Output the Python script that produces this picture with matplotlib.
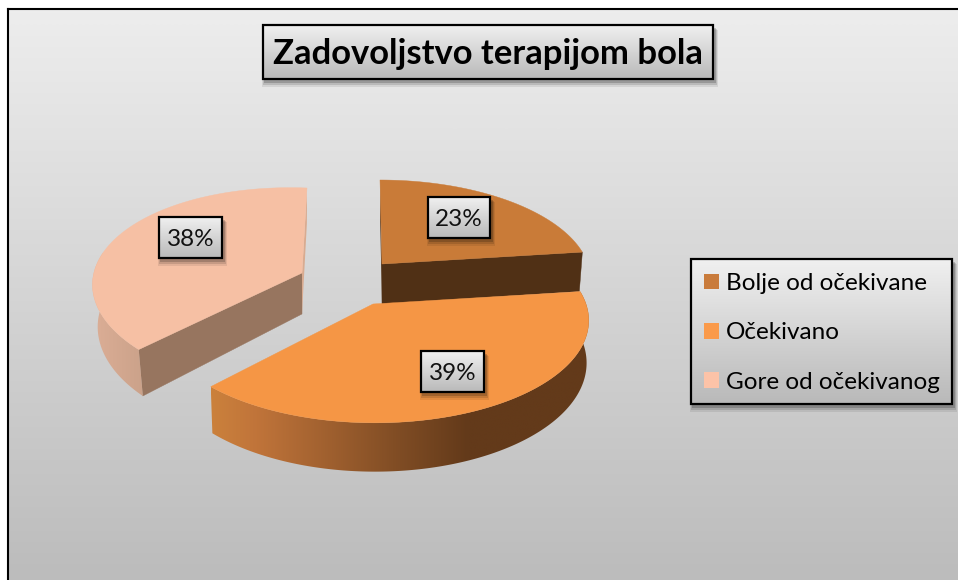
import numpy as np
import matplotlib
matplotlib.use("Agg")
import matplotlib.pyplot as plt
from matplotlib.patches import Rectangle, Polygon, Patch
from matplotlib.colors import LinearSegmentedColormap

# ---- data ----
title = "Zadovoljstvo terapijom bola"
categories = ["Bolje od očekivane", "Očekivano", "Gore od očekivanog"]
values = [23, 39, 38]

# ---- style ----
top_colors = ["#c97b38", "#f59645", "#f6c0a4"]
legend_colors = ["#c97b3b", "#fa9a4a", "#fcc3a8"]
plt.rcParams["font.family"] = ["Lato", "DejaVu Sans"]

# per-slice projection: centre x, centre y, rx, ry, perspective, skew, depth, tilt, wall shrink
geom = [(382, 264, 206, 96.6, 0.15, -2, 40, 0, 0.985),
        (373, 304, 213, 101, 0.15, -2, 41.5, 0, 0.99),
        (302, 273, 206, 98.6, 0.16, 5, 41, 7, 0.975)]
label_boxes = [(428, 197, 62, 41), (421, 351, 63, 41), (159, 217, 63, 41)]

fig = plt.figure(figsize=(9.58, 5.8), dpi=100, facecolor="white")
ax = fig.add_axes([0, 0, 1, 1])
W, H = 958, 580


def grad_box(x, y, w, h, c0, c1, z):
    cm = LinearSegmentedColormap.from_list("g", [c0, c1])
    ax.imshow(np.linspace(0, 1, 128)[:, None], extent=(x, x + w, y + h, y), cmap=cm,
              aspect="auto", interpolation="bilinear", zorder=z, vmin=0, vmax=1)


def boxed(x, y, w, h, z=10, lw=1.6, c0="#f0f0f0", c1="#b9b9b9"):
    for i, a in zip((6, 4, 2), (0.08, 0.12, 0.18)):
        ax.add_patch(Rectangle((x + 1 - i / 2 + 1, y + i / 2 + 2), w + i, h + i / 2, fc="k", ec="none",
                               alpha=a, zorder=z - 0.5))
    grad_box(x, y, w, h, c0, c1, z)
    ax.add_patch(Rectangle((x, y), w, h, fc="none", ec="black", lw=lw, zorder=z + 0.1))


# background panel
grad_box(8, 9, W - 8, H - 9, "#ededed", "#bcbcbc", 0)
ax.plot([8, 8], [H, 9], color="black", lw=1.5, zorder=1, solid_capstyle="projecting")
ax.plot([8, W], [9, 9], color="black", lw=1.5, zorder=1, solid_capstyle="projecting")


def project(a, g):
    cx, cy, rx, ry, k, s, d, tilt, shrink = g
    u, v = np.sin(a), np.cos(a)
    w = 1 + k * v
    x = cx + rx * u / w + s * v
    y = cy - ry * v / w + tilt * u
    bx = cx + (x - cx) * shrink
    by = y + d / w
    return x, y, bx, by


def center(g):
    return (g[0], g[1]), (g[0], g[1] + g[6])


edges = np.cumsum([0] + values) / sum(values) * 2 * np.pi
wall_ramps = [
    None,
    LinearSegmentedColormap.from_list("w1", [(0.0, "#cb813c"), (0.12, "#c0743a"), (0.5, "#7f4c24"),
                                             (0.68, "#633a1a"), (1.0, "#633a1a")]),
    LinearSegmentedColormap.from_list("w2", ["#dcae96", "#cba28a"]),
]

for idx, z in ((2, 2), (0, 3), (1, 4)):
    g = geom[idx]
    a0, a1 = edges[idx], edges[idx + 1]
    t = np.linspace(a0, a1, 240)
    x, y, bx, by = project(t, g)
    c, cb = center(g)
    # straight cut faces
    if idx == 0:
        ax.add_patch(Polygon([c, (x[-1], y[-1]), (bx[-1], by[-1]), cb], fc="#503015", ec="#503015", lw=0.3, zorder=z))
        ax.add_patch(Polygon([c, (x[0], y[0]), (bx[0], by[0]), cb], fc="#503015", ec="none", zorder=z))
    if idx == 2:
        ax.add_patch(Polygon([c, (x[0], y[0]), (bx[0], by[0]), cb], fc="#97755f", ec="#97755f", lw=0.3, zorder=z))
        ax.add_patch(Polygon([c, (x[-1], y[-1]), (bx[-1], by[-1]), cb], fc="#d9ab90", ec="none", zorder=z))
    # curved outer wall, clipped image with a horizontal shading ramp
    if wall_ramps[idx] is not None:
        keep = np.cos(t) < 0.15
        wall = Polygon(np.r_[np.c_[x[keep], y[keep]], np.c_[bx[keep], by[keep]][::-1]], fc="none", ec="none",
                       transform=ax.transData)
        ax.add_patch(wall)
        xmin, xmax = min(x[keep].min(), bx[keep].min()), max(x[keep].max(), bx[keep].max())
        ymin, ymax = min(y[keep].min(), by[keep].min()), max(y[keep].max(), by[keep].max())
        im = ax.imshow(np.linspace(0, 1, 256)[None, :], extent=(xmin, xmax, ymax, ymin), cmap=wall_ramps[idx],
                       aspect="auto", interpolation="bilinear", zorder=z, vmin=0, vmax=1)
        im.set_clip_path(wall)
    # top face
    ax.add_patch(Polygon(np.r_[[c], np.c_[x, y]], fc=top_colors[idx], ec=top_colors[idx], lw=0.3, zorder=z + 0.2))

# value labels
for v, (bx0, by0, bw, bh) in zip(values, label_boxes):
    boxed(bx0, by0, bw, bh, z=10)
    ax.text(bx0 + bw / 2, by0 + bh / 2 + 2, f"{v}%", ha="center", va="center", fontsize=17.5, color="#111111", zorder=11)

# title
boxed(263, 25, 450, 54, z=10)
ax.text(488, 54.5, title, ha="center", va="center", fontsize=24.9, fontweight="bold", color="black", zorder=11)

# legend
boxed(691, 259, 261, 145, z=10)
handles = [Patch(fc=c, ec="none") for c in legend_colors]
leg = ax.legend(handles, categories, loc="upper left", bbox_to_anchor=(704, 273), bbox_transform=ax.transData,
                frameon=False, fontsize=17.5, handlelength=0.62, handleheight=0.62, handletextpad=0.3,
                labelspacing=1.17, borderpad=0, borderaxespad=0)
leg.set_zorder(12)

ax.set_xlim(0, W)
ax.set_ylim(H, 0)
ax.axis("off")
fig.savefig("out.png", dpi=100, facecolor="white")
